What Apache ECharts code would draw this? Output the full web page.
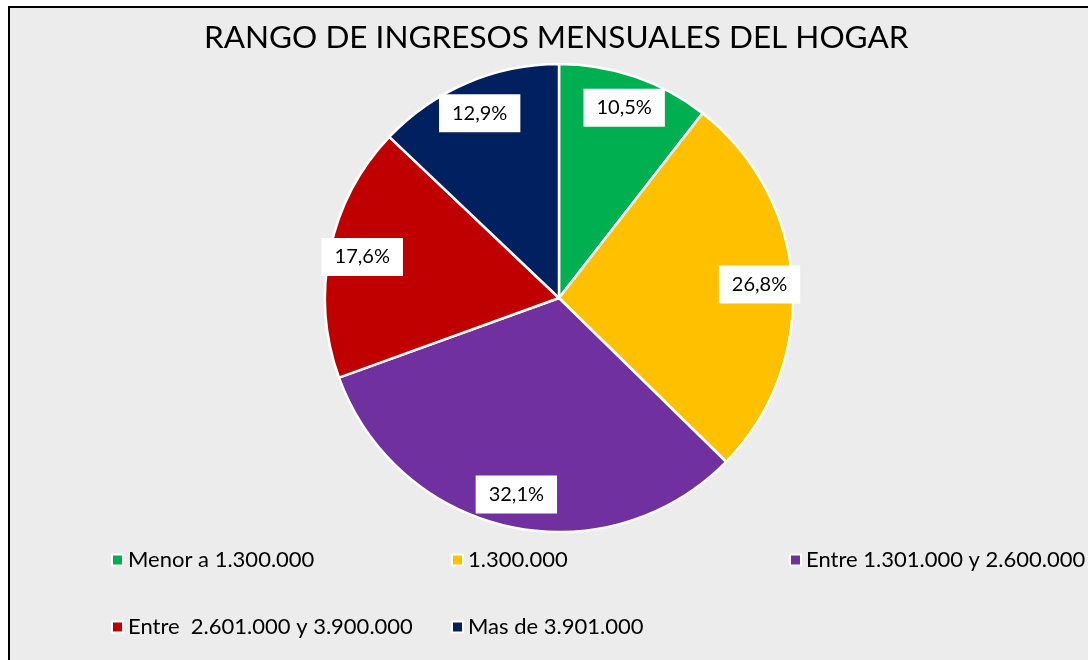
<!DOCTYPE html>
<html>
<head>
<meta charset="utf-8">
<script src="https://cdn.jsdelivr.net/npm/echarts@6/dist/echarts.min.js"></script>
<style>
html,body{margin:0;padding:0;background:#fff;}
#c{width:1088px;height:660px;}
</style>
</head>
<body>
<div id="c"></div>
<script>
const titleText = 'RANGO DE INGRESOS MENSUALES DEL HOGAR';
const categories = ['Menor a 1.300.000', '1.300.000', 'Entre 1.301.000 y 2.600.000', 'Entre  2.601.000 y 3.900.000', 'Mas de 3.901.000'];
const values = [10.5, 26.8, 32.1, 17.6, 12.9];
const colors = ['#00B050', '#FFC000', '#7030A0', '#C00000', '#002060'];

const FONT = 'Lato';
const data = categories.map((n, i) => ({ name: n, value: values[i], itemStyle: { color: colors[i] } }));
const fmt = p => p.value.toFixed(1).replace('.', ',') + '%';

// legend grid: 3 columns, 2 rows
const legendCols = [106, 446, 784];
const legendRows = [544, 611];
const legends = categories.map((n, i) => ({
  left: legendCols[i % 3],
  top: legendRows[Math.floor(i / 3)],
  data: [n],
  icon: 'rect',
  itemWidth: 11,
  itemHeight: 11,
  itemStyle: { borderColor: '#ffffff', borderWidth: 2 },
  textStyle: { fontFamily: FONT, fontSize: 22, color: '#000' },
  selectedMode: false
}));

const chart = echarts.init(document.getElementById('c'), null, { renderer: 'canvas' });
chart.setOption({
  backgroundColor: '#ffffff',
  animation: false,
  graphic: [{
    type: 'rect', z: -10, silent: true,
    shape: { x: 9, y: 7, width: 1200, height: 800 },
    style: { fill: '#ececec', stroke: '#000', lineWidth: 2 }
  }],
  title: {
    text: titleText, left: 199, top: 17,
    textStyle: { fontFamily: FONT, fontSize: 31.5, fontWeight: 'normal', color: '#000' }
  },
  legend: legends,
  series: [
    {
      type: 'pie', center: [559, 298], radius: [0, 234], startAngle: 90, clockwise: true,
      data: data, label: { show: false }, labelLine: { show: false },
      itemStyle: { borderColor: '#ffffff', borderWidth: 2.5 }, silent: true
    },
    {
      type: 'pie', center: [559, 298], radius: [162, 234], startAngle: 90, clockwise: true,
      data: categories.map((n, i) => ({ name: n, value: values[i] })),
      itemStyle: { color: 'rgba(0,0,0,0)', borderWidth: 0 }, silent: true,
      emphasis: { disabled: true },
      label: {
        show: true, position: 'inside', formatter: fmt,
        fontFamily: FONT, fontSize: 20, color: '#000',
        backgroundColor: '#ffffff', padding: [9, 13]
      },
      labelLine: { show: false }
    }
  ]
});
</script>
</body>
</html>
